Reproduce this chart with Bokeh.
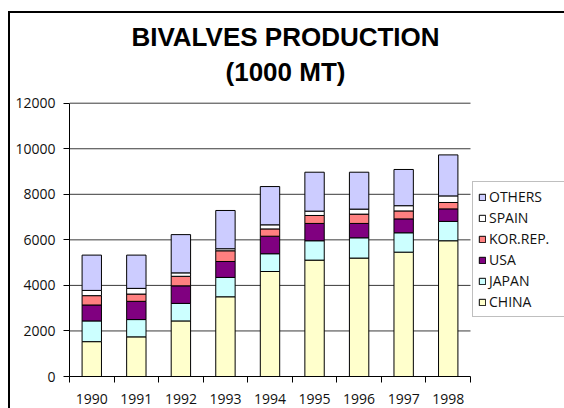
from bokeh.plotting import figure
from bokeh.models import (Range1d, FixedTicker, Legend, LegendItem,
                          Label, ColumnDataSource)
from bokeh.embed import file_html
from bokeh.resources import INLINE

years = ["1990", "1991", "1992", "1993", "1994", "1995", "1996", "1997", "1998"]
china = [1530, 1740, 2440, 3500, 4610, 5110, 5200, 5460, 5960]
japan = [910, 760, 770, 850, 780, 850, 890, 850, 850]
usa = [700, 800, 770, 700, 770, 760, 630, 610, 550]
kor = [410, 320, 420, 470, 320, 350, 410, 350, 280]
spain = [230, 250, 150, 90, 180, 190, 220, 230, 290]
others = [1550, 1460, 1680, 1680, 1680, 1710, 1620, 1590, 1800]
y_ticks = [0, 2000, 4000, 6000, 8000, 10000, 12000]

series_keys = ["china", "japan", "usa", "kor", "spain", "others"]
series_names = ["CHINA", "JAPAN", "USA", "KOR.REP.", "SPAIN", "OTHERS"]
colors = ["#FFFFCC", "#CCFFFF", "#800080", "#FF8080", "#FFFFFF", "#CCCCFF"]

# layout (pixels)
W, H = 564, 408
plot_left, plot_right = 69, 470      # chart area inside the frame
plot_top, plot_bottom = 102.7, 376

n = len(years)
y_max = y_ticks[-1]
frame_w = W - plot_left
frame_h = plot_bottom
x_end = n * frame_w / (plot_right - plot_left)
y_end = y_max * frame_h / (plot_bottom - plot_top)

centers = [i + 0.5 for i in range(n)]
bounds = list(range(n + 1))

src = ColumnDataSource(dict(x=centers, china=china, japan=japan, usa=usa,
                            kor=kor, spain=spain, others=others))

p = figure(width=W, height=H, output_backend="svg", toolbar_location=None,
           title=None, x_range=Range1d(0, x_end), y_range=Range1d(0, y_end),
           min_border_left=plot_left, min_border_right=0, min_border_top=0,
           min_border_bottom=H - plot_bottom)
p.outline_line_color = None
p.background_fill_alpha = 0
p.border_fill_alpha = 0
p.styles = {"background": "linear-gradient(#000,#000) 8px 11px / 2px 100% no-repeat, "
                          "linear-gradient(#000,#000) 8px 11px / 100% 2px no-repeat, #fff"}

# gridlines (drawn under the bars)
grid_vals = [t for t in y_ticks if t > 0]
p.segment(x0=[0] * len(grid_vals), x1=[n] * len(grid_vals), y0=grid_vals, y1=grid_vals,
          line_color="#3a3a3a", line_width=1)

rs = p.vbar_stack(series_keys, x="x", width=0.435, source=src, color=colors,
                  line_color="black", line_width=1)

# axes
tick_font = "Open Sans"
p.xaxis.ticker = FixedTicker(ticks=centers, minor_ticks=bounds)
p.xaxis.major_label_overrides = {c: y for c, y in zip(centers, years)}
p.xaxis.bounds = (0, n)
p.xaxis.major_tick_out = 0
p.xaxis.major_tick_in = 0
p.xaxis.minor_tick_out = 6
p.xaxis.minor_tick_in = 0
p.xaxis.major_label_standoff = 11
for ax in (p.xaxis, p.yaxis):
    ax.axis_line_color = "black"
    ax.major_tick_line_color = "black"
    ax.minor_tick_line_color = "black"
    ax.major_label_text_font = tick_font
    ax.major_label_text_font_size = "14px"
    ax.major_label_text_color = "#111111"
p.yaxis.ticker = FixedTicker(ticks=y_ticks)
p.yaxis.bounds = (0, y_max)
p.yaxis.major_tick_out = 6
p.yaxis.major_tick_in = 0
p.yaxis.minor_tick_line_color = None
p.yaxis.major_label_standoff = 8

p.grid.visible = False

# title (two centred lines)
title_cx = 285
for txt, base in (("BIVALVES PRODUCTION", 36), ("(1000 MT)", 71.5)):
    p.add_layout(Label(x=title_cx - plot_left, y=frame_h - base, x_units="screen",
                       y_units="screen", text=txt, text_align="center",
                       text_baseline="alphabetic", text_font="Liberation Sans",
                       text_font_size="26px", text_font_style="bold", text_color="black"))

# legend
items = [LegendItem(label=name, renderers=[r]) for name, r in zip(series_names, rs)]
legend = Legend(items=list(reversed(items)), location=(472 - plot_left, plot_bottom - 317),
                label_text_font=tick_font, label_text_font_size="14px",
                label_text_color="#111111",
                glyph_width=8, glyph_height=8, label_height=18, label_width=100,
                spacing=2, padding=5, margin=0, label_standoff=3,
                border_line_color="#808080", border_line_width=1,
                background_fill_color="white", background_fill_alpha=1)
p.add_layout(legend, "center")

open("out.html", "w").write(file_html(p, INLINE))
